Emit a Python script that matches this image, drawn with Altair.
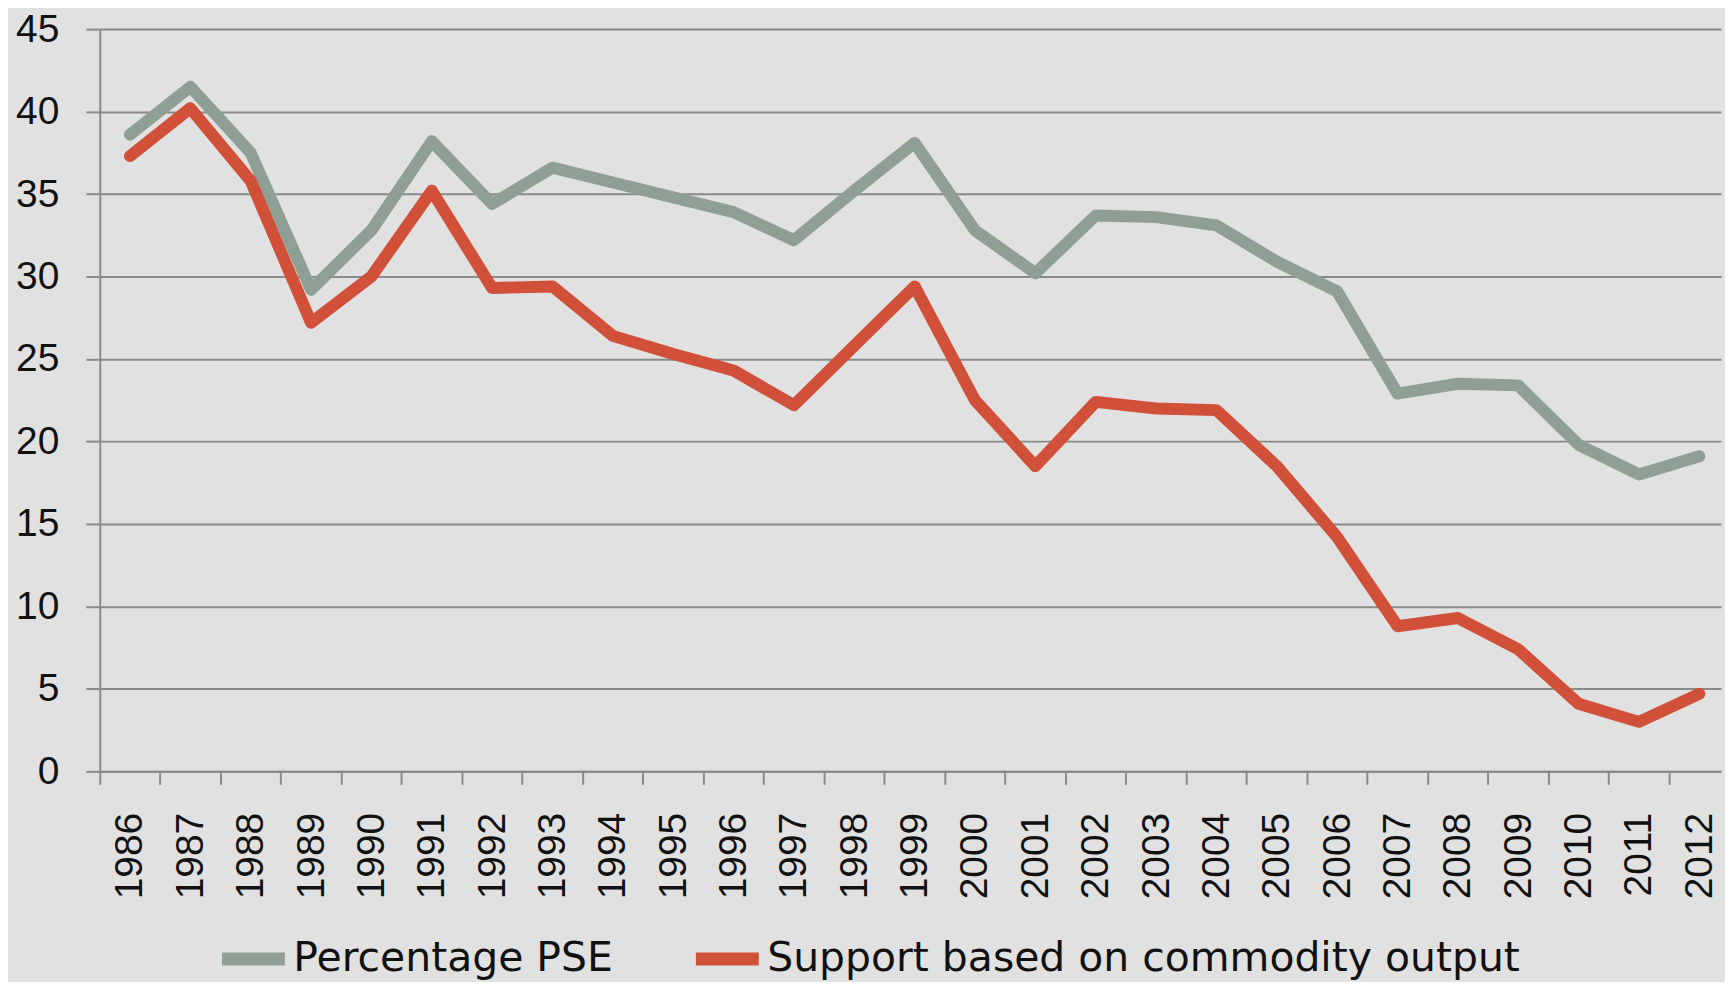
import altair as alt
import pandas as pd

years = list(range(1986, 2013))
pse = [38.6, 41.5, 37.5, 29.2, 32.8, 38.2, 34.4, 36.6, 35.7, 34.8, 33.9, 32.2, 35.2, 38.1,
       32.8, 30.2, 33.7, 33.6, 33.1, 30.9, 29.1, 22.9, 23.5, 23.4, 19.8, 18.0, 19.1]
support = [37.3, 40.2, 35.8, 27.2, 30.0, 35.2, 29.3, 29.4, 26.4, 25.3, 24.3, 22.2, 25.8, 29.4,
           22.5, 18.5, 22.4, 22.0, 21.9, 18.5, 14.2, 8.8, 9.3, 7.4, 4.1, 3.0, 4.7]
series_names = ["Percentage PSE", "Support based on commodity output"]
series_colors = ["#8F9F94", "#D0503A"]
y_ticks = list(range(0, 50, 5))

rows = []
for name, vals in zip(series_names, [pse, support]):
    for yr, v in zip(years, vals):
        rows.append({"year": yr, "value": v, "series": name})
df = pd.DataFrame(rows)

W = 1625
band = 60.5
x_domain = [1985.5, 1985.5 + W / band]
x_tick_vals = [y - 0.5 for y in years]
grid_col = "#8A8A8A"

chart = alt.Chart(df).mark_line(
    strokeWidth=12, strokeCap="round", strokeJoin="round"
).encode(
    x=alt.X("year:Q",
            scale=alt.Scale(domain=x_domain, nice=False, zero=False),
            axis=alt.Axis(values=x_tick_vals, labelExpr="toString(datum.value + 0.5)",
                          labelOffset=band / 2, labelAngle=270, labelFlush=False,
                          labelOverlap=False, labelBound=False, grid=False,
                          tickSize=13, tickColor=grid_col, tickWidth=2,
                          domainColor=grid_col, domainWidth=2,
                          labelPadding=28, labelFont="Liberation Sans",
                          labelFontSize=39, labelColor="#111111", title=None)),
    y=alt.Y("value:Q",
            scale=alt.Scale(domain=[0, 45], nice=False),
            axis=alt.Axis(values=y_ticks, grid=True, gridColor=grid_col, gridWidth=2,
                          tickSize=14, tickColor=grid_col, tickWidth=2,
                          domainColor=grid_col, domainWidth=2,
                          labelPadding=27, labelFont="Liberation Sans",
                          labelFontSize=39, labelColor="#111111", title=None)),
    color=alt.Color("series:N",
                    scale=alt.Scale(domain=series_names, range=series_colors),
                    legend=alt.Legend(orient="none", legendX=116, legendY=894,
                                      direction="horizontal", title=None,
                                      symbolType="stroke", symbolSize=3969,
                                      symbolStrokeWidth=13, labelOffset=2,
                                      columnPadding=56, labelFont="DejaVu Sans",
                                      labelFontSize=41, labelColor="#111111",
                                      labelLimit=1000)),
).properties(
    width=W, height=744,
    autosize=alt.AutoSizeParams(type="none"),
    padding={"left": 92, "top": 20, "right": 4, "bottom": 210},
    background="#E1E1E1",
).configure_view(strokeWidth=0)

chart.save("out.html", embed_options={"renderer": "svg", "actions": False})
